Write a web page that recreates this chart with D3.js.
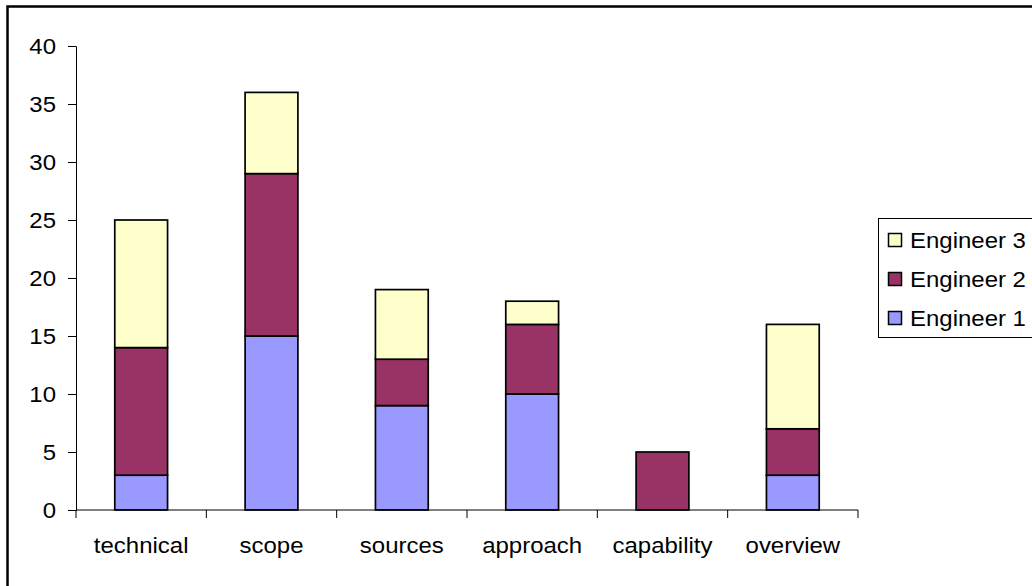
<!DOCTYPE html>
<html>
<head>
<meta charset="utf-8">
<script src="https://cdn.jsdelivr.net/npm/d3@7"></script>
<style>
  html, body { margin: 0; padding: 0; background: #fff; }
  svg { display: block; }
  text { font-family: "Liberation Sans", Arial, sans-serif; fill: #000; }
</style>
</head>
<body>
<svg id="chart" width="1032" height="586"></svg>
<script>
const categories = ["technical", "scope", "sources", "approach", "capability", "overview"];
const seriesNames = ["Engineer 1", "Engineer 2", "Engineer 3"];
const engineer1 = [3, 15, 9, 10, 0, 3];
const engineer2 = [11, 14, 4, 6, 5, 4];
const engineer3 = [11, 7, 6, 2, 0, 9];
const yTicks = [0, 5, 10, 15, 20, 25, 30, 35, 40];
const colors = ["#9999FF", "#993366", "#FFFFCC"];

const SX = 1.09; // horizontal stretch of the reference text
const svg = d3.select("#chart");

// outer chart border (extends beyond right/bottom edge)
svg.append("rect")
  .attr("x", 7.5).attr("y", 6.5)
  .attr("width", 1200).attr("height", 800)
  .attr("fill", "#fff").attr("stroke", "#000").attr("stroke-width", 2.5);

const x = d3.scaleBand().domain(categories).range([76, 858])
  .paddingInner(0.595).paddingOuter(0.2975);
const y = d3.scaleLinear().domain([0, 40]).range([510, 46]);

const rows = categories.map((c, i) => ({
  cat: c, "Engineer 1": engineer1[i], "Engineer 2": engineer2[i], "Engineer 3": engineer3[i]
}));
const stacked = d3.stack().keys(seriesNames)(rows);

// bars
stacked.forEach((layer, li) => {
  svg.append("g").selectAll("rect")
    .data(layer.filter(d => d[1] - d[0] > 0))
    .join("rect")
    .attr("x", d => x(d.data.cat))
    .attr("y", d => y(d[1]))
    .attr("width", x.bandwidth())
    .attr("height", d => y(d[0]) - y(d[1]))
    .attr("fill", colors[li])
    .attr("stroke", "#000")
    .attr("stroke-width", 1.7);
});

// y axis
const yAxis = svg.append("g").attr("transform", "translate(76,0)")
  .call(d3.axisLeft(y).tickValues(yTicks).tickSize(8).tickPadding(12).tickFormat(d3.format("d")));
yAxis.select(".domain").attr("stroke", "#000").attr("stroke-width", 1);
yAxis.selectAll(".tick line").attr("stroke", "#000");
yAxis.selectAll(".tick text")
  .style("font-size", "22px").attr("fill", "#000")
  .style("font-family", '"Liberation Sans", Arial, sans-serif')
  .attr("transform", function() {
    const tx = +d3.select(this).attr("x");
    return `translate(${tx},0) scale(${SX},1)`;
  })
  .attr("x", 0);

// x axis
const xg = svg.append("g");
xg.append("line").attr("x1", 76).attr("x2", 858).attr("y1", 510).attr("y2", 510)
  .attr("stroke", "#000").attr("stroke-width", 1);
const bounds = categories.map(c => x(c) - x.step() * x.paddingOuter());
bounds.push(x(categories[categories.length - 1]) + x.bandwidth() + x.step() * x.paddingOuter());
xg.selectAll("line.tk").data(bounds).join("line").attr("class", "tk")
  .attr("x1", d => d).attr("x2", d => d).attr("y1", 510).attr("y2", 518)
  .attr("stroke", "#000").attr("stroke-width", 1);
xg.selectAll("text").data(categories).join("text")
  .attr("transform", d => `translate(${x(d) + x.bandwidth() / 2},553) scale(${SX},1)`)
  .attr("text-anchor", "middle")
  .style("font-size", "22px")
  .text(d => d);

// legend
const lg = svg.append("g");
lg.append("rect").attr("x", 878.5).attr("y", 218.5).attr("width", 200).attr("height", 119)
  .attr("fill", "#fff").attr("stroke", "#000").attr("stroke-width", 1);
const legendOrder = [2, 1, 0];
legendOrder.forEach((si, k) => {
  const cy = 240 + k * 39;
  lg.append("rect").attr("x", 888.5).attr("y", cy - 6.5).attr("width", 13).attr("height", 13)
    .attr("fill", colors[si]).attr("stroke", "#000").attr("stroke-width", 1.5);
  lg.append("text").attr("transform", `translate(910,${cy + 8}) scale(${SX},1)`)
    .style("font-size", "22px").text(seriesNames[si]);
});
</script>
</body>
</html>
